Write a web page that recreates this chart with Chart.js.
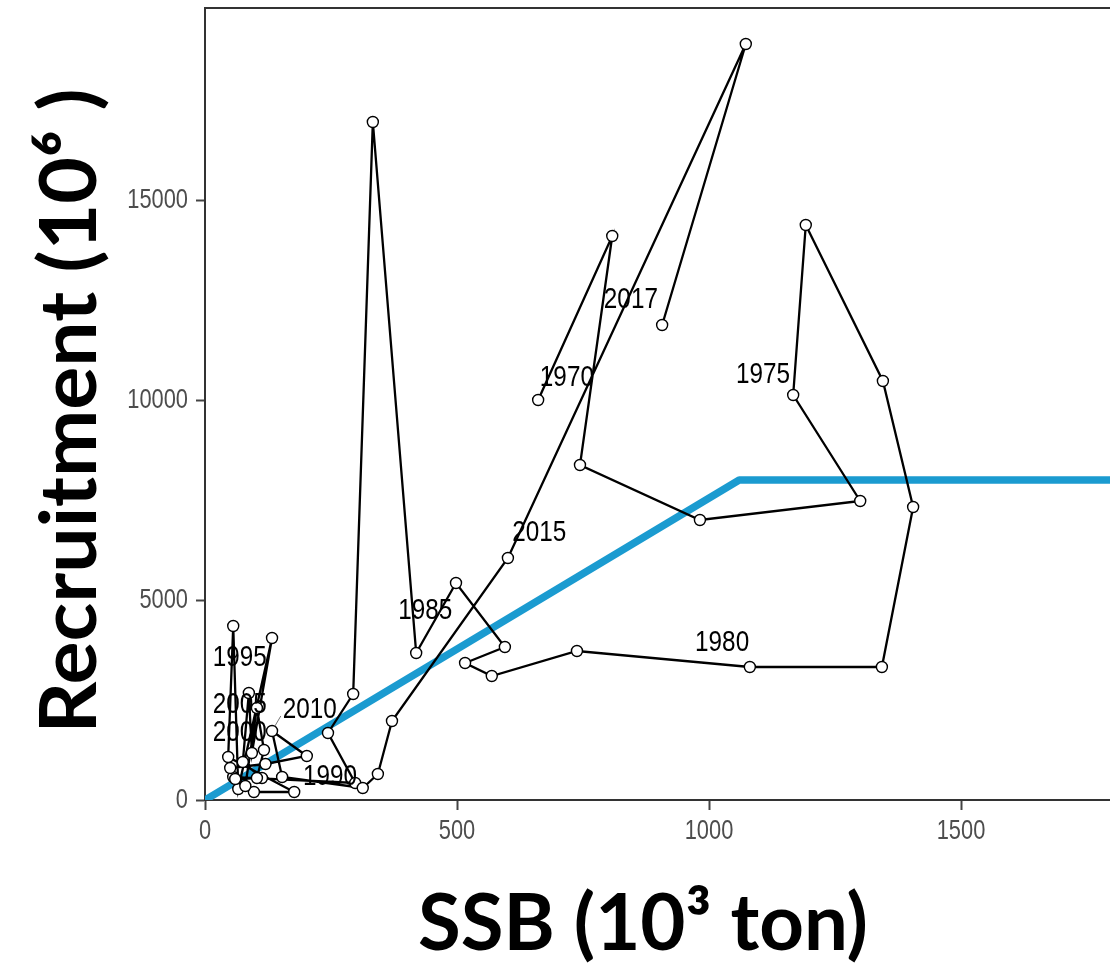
<!DOCTYPE html>
<html><head><meta charset="utf-8">
<script src="https://cdn.jsdelivr.net/npm/chart.js@4.4.1/dist/chart.umd.min.js"></script>
<style>html,body{margin:0;padding:0;background:#fff;overflow:hidden}#wrap{width:1110px;height:965px}</style>
</head><body><div id="wrap"><canvas id="c" width="1110" height="965"></canvas></div>
<script>
// ---- data ----
const years = [1970,1971,1972,1973,1974,1975,1976,1977,1978,1979,
               1980,1981,1982,1983,1984,1985,1986,1987,1988,1989,
               1990,1991,1992,1993,1994,1995,1996,1997,1998,1999,
               2000,2001,2002,2003,2004,2005,2006,2007,2008,2009,
               2010,2011,2012,2013,2014,2015,2016,2017];
const ssb = [661,808,744,982,1300,1167,1192,1345,1405,1343,
             1081,738,569,516,595,498,419,333,294,244,
             298,56,97,177,46,56,66,133,93,87,
             75,113,60,103,117,103,80,50,120,202,
             133,153,313,343,371,601,1073,907];
const recruitment = [10000,14100,8375,7000,7475,10125,14375,10475,7325,3325,
             3325,3725,3100,3425,3825,5425,3675,16950,2650,1675,
             425,575,200,200,1075,4350,275,4050,1175,2675,
             950,550,525,550,1250,2300,350,800,900,1100,
             1725,575,300,650,1975,6050,18900,11875];
const srSSB = [0, 1060, 2000];
const srRec = [0, 8000, 8000];
const xTicks = [0, 500, 1000, 1500];
const yTicks = [0, 5000, 10000, 15000];
const labelYears = [1970,1975,1980,1985,1990,1995,2000,2005,2010,2015,2017];
const labelSSB   = [718,1107,1026,437,248,69,69,69,208,663,845];
const labelRec   = [10550,10625,3925,4725,575,3550,1675,2375,2250,6675,12500];
const leaderYears = [2010];
const xTitle = 'SSB (10³ ton)';
const yTitle = 'Recruitment (10⁶ )';

// ---- chart ----
const pathData = years.map((y, i) => ({x: ssb[i], y: recruitment[i]}));
const srData = srSSB.map((v, i) => ({x: v, y: srRec[i]}));

function drawTitle(ctx, text, cx, cy, rot, targetW, size) {
  ctx.save();
  ctx.translate(cx, cy);
  ctx.rotate(rot);
  ctx.font = 'bold ' + size + 'px Lato, "Liberation Sans", sans-serif';
  const w = ctx.measureText(text).width;
  ctx.scale(targetW / w, 1);
  ctx.textAlign = 'center';
  ctx.textBaseline = 'alphabetic';
  ctx.fillStyle = '#000';
  ctx.fillText(text, 0, 0);
  ctx.restore();
}

function narrowText(ctx, text, x, y, align, sx) {
  ctx.save();
  ctx.translate(x, y);
  ctx.scale(sx, 1);
  ctx.textAlign = align;
  ctx.textBaseline = 'middle';
  ctx.fillText(text, 0, 0);
  ctx.restore();
}

const decor = {
  id: 'decor',
  beforeDatasetsDraw(chart) {
    const {ctx, chartArea: a} = chart;
    ctx.save();
    ctx.strokeStyle = '#333';
    ctx.lineWidth = 2;
    ctx.beginPath();
    ctx.moveTo(a.left - 1, a.top);
    ctx.lineTo(a.right, a.top);
    ctx.stroke();
    ctx.restore();
  },
  afterDatasetsDraw(chart) {
    const {ctx} = chart;
    const xs = chart.scales.x, ys = chart.scales.y;
    ctx.save();
    ctx.font = '30px "Liberation Sans", Arial, sans-serif';
    ctx.fillStyle = '#000';
    labelYears.forEach((yr, i) => {
      const lx = xs.getPixelForValue(labelSSB[i]);
      const ly = ys.getPixelForValue(labelRec[i]);
      narrowText(ctx, String(yr), lx, ly, 'center', 0.81);
      if (leaderYears.includes(yr)) {
        const k = years.indexOf(yr);
        const px = xs.getPixelForValue(ssb[k]);
        const py = ys.getPixelForValue(recruitment[k]);
        const w = ctx.measureText(String(yr)).width * 0.81;
        const sx = lx - w / 2 - 2, sy = ly + 6;
        const d = Math.hypot(sx - px, sy - py);
        ctx.save();
        ctx.strokeStyle = '#777';
        ctx.lineWidth = 1;
        ctx.beginPath();
        ctx.moveTo(sx, sy);
        ctx.lineTo(px + (sx - px) * 5.5 / d, py + (sy - py) * 5.5 / d);
        ctx.stroke();
        ctx.restore();
      }
    });
    ctx.restore();
  },
  afterDraw(chart) {
    const {ctx} = chart;
    const xs = chart.scales.x, ys = chart.scales.y;
    ctx.save();
    ctx.font = '28px "Liberation Sans", Arial, sans-serif';
    ctx.fillStyle = '#4d4d4d';
    xTicks.forEach(v => narrowText(ctx, String(v), xs.getPixelForValue(v), xs.bottom - 134, 'center', 0.78));
    yTicks.forEach(v => narrowText(ctx, String(v), ys.right - 17, ys.getPixelForValue(v), 'right', 0.78));
    ctx.restore();
    drawTitle(ctx, yTitle, 96, 411, -Math.PI / 2, 645, 78);
    drawTitle(ctx, xTitle, 643, 950, 0, 450, 78);
  }
};

new Chart(document.getElementById('c'), {
  type: 'scatter',
  data: {
    datasets: [
      {
        label: 'SR',
        data: pathData,
        showLine: true,
        borderColor: '#000',
        borderWidth: 2.3,
        pointRadius: 5.5,
        pointBorderWidth: 1.4,
        pointBackgroundColor: '#fff',
        pointBorderColor: '#000',
        tension: 0,
        order: 1
      },
      {
        label: 'Hockey-stick',
        data: srData,
        showLine: true,
        borderColor: '#1B9BD0',
        borderWidth: 7.5,
        borderJoinStyle: 'round',
        borderCapStyle: 'butt',
        pointRadius: 0,
        tension: 0,
        order: 2
      }
    ]
  },
  options: {
    responsive: false,
    animation: false,
    devicePixelRatio: 1,
    layout: {autoPadding: false, padding: {left: 0, right: 0, top: 8, bottom: 0}},
    plugins: {legend: {display: false}, tooltip: {enabled: false}, title: {display: false}},
    scales: {
      x: {
        type: 'linear',
        min: 0,
        max: 1795.6,
        afterBuildTicks: s => { s.ticks = xTicks.map(v => ({value: v})); },
        afterFit: s => { s.height = 165; s.paddingLeft = 0; s.paddingRight = 0; },
        ticks: {display: false},
        grid: {display: true, drawOnChartArea: false, drawTicks: true, tickLength: 10, tickWidth: 2, color: '#444'},
        border: {display: true, color: '#333', width: 2},
        title: {display: false}
      },
      y: {
        type: 'linear',
        min: 0,
        max: 19800,
        afterBuildTicks: s => { s.ticks = yTicks.map(v => ({value: v})); },
        afterFit: s => { s.width = 205; s.paddingTop = 0; s.paddingBottom = 0; },
        ticks: {display: false},
        grid: {display: true, drawOnChartArea: false, drawTicks: true, tickLength: 9, tickWidth: 2, color: '#444'},
        border: {display: true, color: '#333', width: 2},
        title: {display: false}
      }
    }
  },
  plugins: [decor]
});
</script>
</body></html>
